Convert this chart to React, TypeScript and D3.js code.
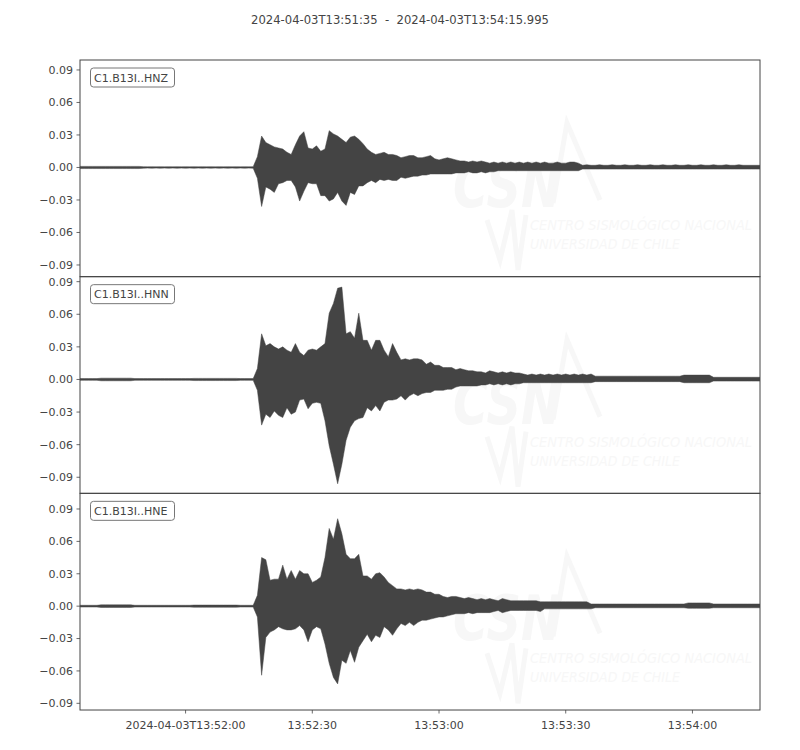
import * as d3 from "d3";

// Trace ids, as labelled in each panel
const traceIds = ["C1.B13I..HNZ", "C1.B13I..HNN", "C1.B13I..HNE"];

// Envelope, one value per second from 13:51:35 (units of 0.001)
const hnzMax = [
  1, 1, 1, 1, 1, 1, 1, 1, 1, 1, 1, 1, 1, 1, 1, 0.7, 0.6, 0.7, 0.6, 0.7,
  0.6, 0.7, 0.6, 0.7, 0.6, 0.7, 0.6, 0.7, 0.6, 0.7, 0.6, 0.7, 0.6, 0.7, 0.6, 0.7,
  0.6, 0.7, 0.6, 0.7, 0.6, 0.7, 10, 29, 23, 21, 19, 18, 17, 14, 12, 21,
  29, 33, 18, 17, 20, 15, 17, 34, 31, 29, 26, 23, 28, 29, 26, 22, 17, 14,
  12, 13, 14, 12, 12, 11, 9, 10, 11, 11, 9, 9, 10, 11, 8, 7, 8, 9,
  8, 7, 6, 6, 5, 6, 5, 6, 5, 4, 5, 4, 5, 4, 5, 4, 5, 4,
  5, 4, 5, 4, 5, 4, 4, 5, 4, 4, 5, 5, 4, 2, 2.5, 2, 2, 2.5,
  2, 2, 2.5, 2, 2, 2.5, 2, 2, 2.5, 2, 2, 2.5, 2, 2, 2.5, 2, 2, 2.5,
  2, 2, 2.5, 2, 2, 2.5, 2, 2, 2.5, 2, 2, 2.5, 2, 2, 2.5, 2, 2, 2, 2, 2,
];
const hnzMin = [
  -1, -1, -1, -1, -1, -1, -1, -1, -1, -1, -1, -1, -1, -1, -1, -0.7, -0.6, -0.7, -0.6, -0.7,
  -0.6, -0.7, -0.6, -0.7, -0.6, -0.7, -0.6, -0.7, -0.6, -0.7, -0.6, -0.7, -0.6, -0.7, -0.6, -0.7,
  -0.6, -0.7, -0.6, -0.7, -0.6, -0.7, -10, -36, -18, -20, -23, -15, -14, -12, -12, -18,
  -31, -22, -14, -15, -15, -26, -26, -31, -29, -23, -31, -35, -23, -25, -17, -17, -14, -12,
  -14, -11, -12, -11, -12, -12, -9, -10, -9, -8, -8, -7, -7, -6, -6, -6, -6, -6,
  -6, -5, -5, -5, -4, -5, -5, -4, -5, -4, -4, -3, -3, -3, -3, -3, -3, -3,
  -3, -3, -3, -3, -3, -3, -3, -3, -3, -3, -3, -3, -3, -1.5, -1.5, -1.5, -1.5, -1.5,
  -1.5, -1.5, -1.5, -1.5, -1.5, -1.5, -1.5, -1.5, -1.5, -1.5, -1.5, -1.5, -1.5, -1.5, -1.5, -1.5, -1.5, -1.5,
  -1.5, -1.5, -1.5, -1.5, -1.5, -1.5, -1.5, -1.5, -1.5, -1.5, -1.5, -1.5, -1.5, -1.5, -1.5, -1.5, -1.5, -1.5, -1.5, -1.5,
];

const hnnMax = [
  0.8, 0.8, 0.8, 0.8, 0.8, 1.2, 1.2, 1.2, 1.2, 1.2, 1.2, 1.2, 1.2, 0.8, 0.8, 0.8, 0.8, 0.8, 0.8, 0.8,
  0.8, 0.8, 0.8, 0.8, 0.8, 0.8, 0.8, 1, 1, 1, 1, 1, 1, 1, 1, 1,
  1, 1, 0.8, 0.8, 0.8, 0.8, 10, 42, 31, 33, 30, 28, 30, 27, 25, 33,
  25, 22, 27, 28, 27, 30, 33, 61, 70, 84, 85, 42, 44, 38, 61, 36, 36, 27,
  36, 36, 27, 21, 33, 25, 18, 19, 18, 19, 19, 18, 14, 16, 13, 13, 11, 11,
  11, 9, 10, 9, 8, 8, 7, 7, 6, 8, 7, 6, 7, 6, 7, 6, 6, 5,
  4, 5, 4, 5, 4, 5, 4, 5, 4, 5, 4, 5, 4, 5, 4, 5, 3, 3, 3, 3,
  3, 3, 3, 3, 3, 3, 3, 3, 3, 3, 3, 3, 3, 3, 3, 3, 3, 4, 4, 4,
  4, 4, 4, 4, 2, 2, 2, 2, 2, 2, 2, 2, 2, 2, 2, 2,
];
const hnnMin = [
  -0.8, -0.8, -0.8, -0.8, -0.8, -1.2, -1.2, -1.2, -1.2, -1.2, -1.2, -1.2, -1.2, -0.8, -0.8, -0.8, -0.8, -0.8, -0.8, -0.8,
  -0.8, -0.8, -0.8, -0.8, -0.8, -0.8, -0.8, -1, -1, -1, -1, -1, -1, -1, -1, -1,
  -1, -1, -0.8, -0.8, -0.8, -0.8, -10, -42, -32, -35, -29, -33, -35, -26, -32, -30,
  -19, -18, -27, -22, -21, -22, -38, -61, -78, -96, -78, -56, -44, -38, -36, -35, -26, -29,
  -24, -29, -21, -19, -19, -18, -15, -19, -15, -13, -15, -13, -12, -12, -10, -10, -10, -9,
  -9, -7, -6, -6, -6, -6, -6, -5, -5, -4, -5, -4, -5, -4, -5, -4, -4, -3,
  -3, -3, -3, -3, -3, -3, -3, -3, -3, -3, -3, -3, -3, -3, -3, -3, -2, -2, -2, -2,
  -2, -2, -2, -2, -2, -2, -2, -2, -2, -2, -2, -2, -2, -2, -2, -2, -2, -3, -3, -3,
  -3, -3, -3, -3, -1.5, -1.5, -1.5, -1.5, -1.5, -1.5, -1.5, -1.5, -1.5, -1.5, -1.5, -1.5,
];

const hneMax = [
  0.8, 0.8, 0.8, 0.8, 0.8, 1.2, 1.2, 1.2, 1.2, 1.2, 1.2, 1.2, 1.2, 0.8, 0.8, 0.8, 0.8, 0.8, 0.8, 0.8,
  0.8, 0.8, 0.8, 0.8, 0.8, 0.8, 0.8, 1, 1, 1, 1, 1, 1, 1, 1, 1,
  1, 1, 0.8, 0.8, 0.8, 0.8, 10, 45, 43, 24, 25, 25, 38, 25, 33, 25,
  33, 30, 30, 22, 24, 27, 45, 72, 62, 81, 67, 48, 44, 44, 48, 28, 28, 25,
  30, 31, 27, 22, 19, 16, 16, 15, 16, 15, 16, 15, 13, 13, 11, 11, 9, 8,
  9, 9, 8, 7, 8, 7, 6, 7, 6, 7, 6, 5, 7, 6, 5, 5, 5, 5,
  5, 5, 5, 4, 4, 4, 4, 4, 4, 4, 4, 4, 4, 4, 4, 2, 2, 2, 2, 2,
  2, 2, 2, 2, 2, 2, 2, 2, 2, 2, 2, 2, 2, 2, 2, 2, 2, 2, 3, 3,
  3, 3, 3, 3, 2, 2, 2, 2, 2, 2, 2, 2, 2, 2, 2, 2, 2,
];
const hneMin = [
  -0.8, -0.8, -0.8, -0.8, -0.8, -1.2, -1.2, -1.2, -1.2, -1.2, -1.2, -1.2, -1.2, -0.8, -0.8, -0.8, -0.8, -0.8, -0.8, -0.8,
  -0.8, -0.8, -0.8, -0.8, -0.8, -0.8, -0.8, -1, -1, -1, -1, -1, -1, -1, -1, -1,
  -1, -1, -0.8, -0.8, -0.8, -0.8, -10, -64, -29, -24, -22, -19, -21, -22, -22, -21,
  -18, -22, -33, -22, -19, -21, -35, -53, -66, -72, -50, -53, -41, -52, -38, -32, -26, -33,
  -27, -29, -19, -22, -27, -21, -16, -18, -15, -18, -15, -13, -13, -12, -11, -10, -10, -9,
  -8, -7, -7, -7, -6, -7, -6, -6, -6, -6, -5, -4, -6, -5, -4, -4, -4, -4,
  -4, -4, -4, -5, -2.5, -2.5, -2.5, -2.5, -2.5, -2.5, -2.5, -2.5, -2.5, -2.5, -2.5, -2.5, -1.5, -1.5, -1.5, -1.5,
  -1.5, -1.5, -1.5, -1.5, -1.5, -1.5, -1.5, -1.5, -1.5, -1.5, -1.5, -1.5, -1.5, -1.5, -1.5, -1.5, -1.5, -1.5, -2, -2,
  -2, -2, -2, -2, -1.5, -1.5, -1.5, -1.5, -1.5, -1.5, -1.5, -1.5, -1.5, -1.5, -1.5, -1.5, -1.5,
];

// y limits of each panel (ObsPy centres each trace on its mean)
const yLimits: [number, number][] = [
  [-0.1008, 0.0992],
  [-0.1048, 0.0946],
  [-0.0962, 0.1045],
];
const yTicks = [-0.09, -0.06, -0.03, 0, 0.03, 0.06, 0.09];

const startTime = new Date(Date.UTC(2024, 3, 3, 13, 51, 35));
const endTime = new Date(Date.UTC(2024, 3, 3, 13, 54, 15, 995));
const xTickTimes = [
  new Date(Date.UTC(2024, 3, 3, 13, 52, 0)),
  new Date(Date.UTC(2024, 3, 3, 13, 52, 30)),
  new Date(Date.UTC(2024, 3, 3, 13, 53, 0)),
  new Date(Date.UTC(2024, 3, 3, 13, 53, 30)),
  new Date(Date.UTC(2024, 3, 3, 13, 54, 0)),
];
const xTickLabels = ["2024-04-03T13:52:00", "13:52:30", "13:53:00", "13:53:30", "13:54:00"];
const title = "2024-04-03T13:51:35  -  2024-04-03T13:54:15.995";

const envelopes = [
  [hnzMax, hnzMin],
  [hnnMax, hnnMin],
  [hneMax, hneMin],
];

const width = 800;
const height = 750;
const left = 80;
const right = 760;
const top = 60;
const panelH = 216.67;
const ink = "#444444";
const font = "DejaVu Sans, sans-serif";
const mark = "#f7f7f7";

interface Bin {
  t: Date;
  hi: number;
  lo: number;
}

function toBins(maxs: number[], mins: number[]): Bin[] {
  return maxs.map((m, i) => ({
    t: new Date(startTime.getTime() + i * 1000),
    hi: m / 1000,
    lo: mins[i] / 1000,
  }));
}

function Watermark({ y0 }: { y0: number }) {
  return (
    <g pointerEvents="none">
      <text x={453} y={y0 + 147} fontFamily={font} fontStyle="italic" fontWeight="bold"
        fontSize={62} fill={mark} textLength={108} lengthAdjust="spacingAndGlyphs">
        CSN
      </text>
      <polyline points={`553,${y0 + 143} 567,${y0 + 63} 600,${y0 + 140}`} fill="none" stroke={mark} strokeWidth={5} />
      <polyline points={`487,${y0 + 160} 500,${y0 + 200} 512,${y0 + 150} 518,${y0 + 210} 526,${y0 + 155}`}
        fill="none" stroke={mark} strokeWidth={5} />
      <text x={530} y={y0 + 170} fontFamily={font} fontStyle="italic" fontSize={14} fill={mark}
        textLength={222} lengthAdjust="spacingAndGlyphs">
        CENTRO SISMOLÓGICO NACIONAL
      </text>
      <text x={530} y={y0 + 189} fontFamily={font} fontStyle="italic" fontSize={14} fill={mark}
        textLength={150} lengthAdjust="spacingAndGlyphs">
        UNIVERSIDAD DE CHILE
      </text>
    </g>
  );
}

export default function App() {
  const x = d3.scaleUtc().domain([startTime, endTime]).range([left, right]);
  const fmt = d3.format(".2f");

  return (
    <svg width={width} height={height} style={{ position: "absolute", left: 0, top: 0, background: "#fff" }}>
      <rect width={width} height={height} fill="#fff" />
      <text x={400} y={24} textAnchor="middle" fontFamily={font} fontSize={11.6} fill={ink}
        style={{ whiteSpace: "pre" }}>
        {title}
      </text>
      <defs>
        {traceIds.map((id, k) => (
          <clipPath id={`clip${k}`} key={id}>
            <rect x={left} y={top + k * panelH} width={right - left} height={panelH} />
          </clipPath>
        ))}
      </defs>
      {traceIds.map((id, k) => {
        const y0 = top + k * panelH;
        const y = d3.scaleLinear().domain(yLimits[k]).range([y0 + panelH, y0]);
        const area = d3
          .area<Bin>()
          .x((d) => x(d.t))
          .y0((d) => y(d.lo))
          .y1((d) => y(d.hi));
        const [mx, mn] = envelopes[k];
        return (
          <g key={id}>
            <Watermark y0={y0} />
            <path d={area(toBins(mx, mn)) ?? ""} fill={ink} stroke={ink} strokeWidth={0.5}
              strokeLinejoin="miter" clipPath={`url(#clip${k})`} />
            <rect x={left} y={y0} width={right - left} height={panelH} fill="none" stroke={ink} strokeWidth={1} />
            {yTicks.map((tv) => (
              <g key={tv} transform={`translate(0,${y(tv)})`}>
                <line x1={left - 3.5} x2={left} stroke={ink} strokeWidth={0.8} />
                <text x={left - 7} dy="0.35em" textAnchor="end" fontFamily={font} fontSize={11} fill={ink}>
                  {fmt(tv).replace("-", "\u2212")}
                </text>
              </g>
            ))}
            <rect x={90.5} y={y0 + 8} width={84} height={19} rx={3} fill="#fff" stroke="#777" strokeWidth={1} />
            <text x={94} y={y0 + 21.5} fontFamily={font} fontSize={11} fill={ink}>
              {id}
            </text>
          </g>
        );
      })}
      {xTickTimes.map((tt, i) => (
        <g key={xTickLabels[i]} transform={`translate(${x(tt)},${top + 3 * panelH})`}>
          <line y2={3.5} stroke={ink} strokeWidth={0.8} />
          <text y={19} textAnchor="middle" fontFamily={font} fontSize={11} fill={ink}>
            {xTickLabels[i]}
          </text>
        </g>
      ))}
    </svg>
  );
}
